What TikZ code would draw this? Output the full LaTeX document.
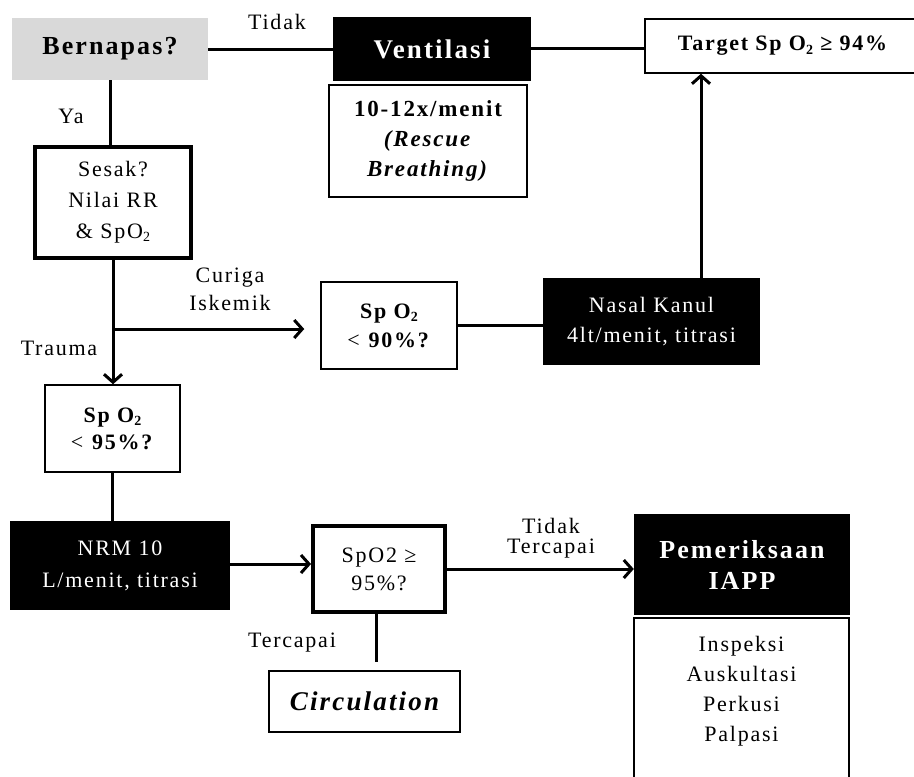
\documentclass[tikz,border=0pt]{standalone}
\usepackage{fontspec}
\setmainfont{Liberation Serif}[LetterSpace=8]
\usetikzlibrary{arrows.meta}
\newcommand{\lowtwo}{\raisebox{-0.35ex}{\fontsize{14}{14}\selectfont 2}}
\begin{document}
\begin{tikzpicture}[x=1pt,y=-1pt,
  base/.style={inner sep=0pt, align=center, font=\fontsize{22}{30}\selectfont},
  wbox/.style={base, draw=black, line width=1.5pt, fill=white},
  tbox/.style={base, draw=black, line width=4pt, fill=white},
  bbox/.style={base, fill=black, text=white},
  gbox/.style={base, fill=black!15},
  lbl/.style={inner sep=0pt, align=center, font=\fontsize{22}{24}\selectfont},
  conn/.style={line width=3pt},
  arr/.style={conn, -{Straight Barb[length=8pt,width=18pt]}}]
\useasboundingbox (0,0) rectangle (914,777);

\node[gbox, minimum width=196, minimum height=62, font=\bfseries\fontsize{26}{30}\selectfont] (bern) at (110,49) {Bernapas?};
\node[bbox, minimum width=198, minimum height=64, font=\bfseries\fontsize{27}{30}\selectfont] (vent) at (432,49) {Ventilasi};
\node[wbox, minimum width=198, minimum height=112, font=\bfseries\fontsize{23}{30}\selectfont] (ventsub) at (428,141) {10-12x/menit\\\textit{(Rescue}\\\textit{Breathing)}};
\node[wbox, minimum width=275, minimum height=54, font=\bfseries\fontsize{22}{24}\selectfont] (target) at (782.5,46) {Target Sp O\lowtwo{} ≥ 94\%};

\node[lbl] (tidak1) at (277,22) {Tidak};
\node[lbl] (ya) at (71,116) {Ya};

\node[tbox, minimum width=156, minimum height=111, font=\fontsize{22}{31}\selectfont] (sesak) at (113,202) {Sesak?\\Nilai RR\\\& SpO\lowtwo};

\node[lbl, font=\fontsize{22}{28}\selectfont] (curiga) at (230,289) {Curiga\\Iskemik};
\node[lbl] (trauma) at (59,348) {Trauma};

\node[wbox, minimum width=136, minimum height=87, font=\fontsize{22}{29}\selectfont] (spo90) at (389,325.5) {\textbf{Sp O\lowtwo}\\< \textbf{90\%?}};
\node[bbox, minimum width=217, minimum height=87] (nasal) at (651.5,321.5) {Nasal Kanul\\4lt/menit, titrasi};

\node[wbox, minimum width=135, minimum height=87, font=\fontsize{22}{27}\selectfont] (spo95) at (112.5,428.5) {\textbf{Sp O\lowtwo}\\< \textbf{95\%?}};

\node[bbox, minimum width=220, minimum height=89, font=\fontsize{22}{32}\selectfont] (nrm) at (120,565.5) {NRM 10\\L/menit, titrasi};
\node[tbox, minimum width=132, minimum height=86, font=\fontsize{22}{28}\selectfont] (spo95b) at (379,569) {SpO2 ≥\\95\%?};

\node[lbl] (tercapai) at (292,643) {Tercapai};
\node[wbox, minimum width=191, minimum height=61, font=\bfseries\itshape\fontsize{27}{30}\selectfont] (circ) at (364.5,701.5) {Circulation};

\node[lbl, font=\fontsize{22}{20}\selectfont] (tt) at (551,538) {Tidak\\Tercapai};
\node[bbox, minimum width=216, minimum height=101, font=\bfseries\fontsize{26}{31}\selectfont] (iapp) at (742,564.5) {Pemeriksaan\\IAPP};
\node[wbox, minimum width=215, minimum height=180] (iappsub) at (741.5,708) {};
\node[base] (iapptext) at (741.5,691) {Inspeksi\\Auskultasi\\Perkusi\\Palpasi};

% connectors
\draw[conn] (bern.east) -- (vent.west);
\draw[conn] ([yshift=1pt]vent.east) -- ([yshift=1pt]vent.east -| target.west);
\draw[conn] (bern.south) -- (bern.south |- sesak.north);
\draw[arr] (sesak.south) -- (sesak.south |- spo95.north);
\coordinate (br) at (113,329);
\draw[arr, shorten >=16pt] (br) -- (br -| spo90.west);
\draw[conn] (spo90.east) -- (spo90.east -| nasal.west);
\draw[arr] ([xshift=49.5pt]nasal.north) -- ([xshift=49.5pt]nasal.north |- target.south);
\draw[conn] (spo95.south) -- (spo95.south |- nrm.north);
\draw[arr] ([yshift=1.5pt]nrm.east) -- ([yshift=1.5pt]nrm.east -| spo95b.west);
\draw[conn, shorten >=8pt] ([xshift=-3pt]spo95b.south) -- ([xshift=-3pt]spo95b.south |- circ.north);
\draw[arr] (spo95b.east) -- (spo95b.east -| iapp.west);
\end{tikzpicture}
\end{document}
